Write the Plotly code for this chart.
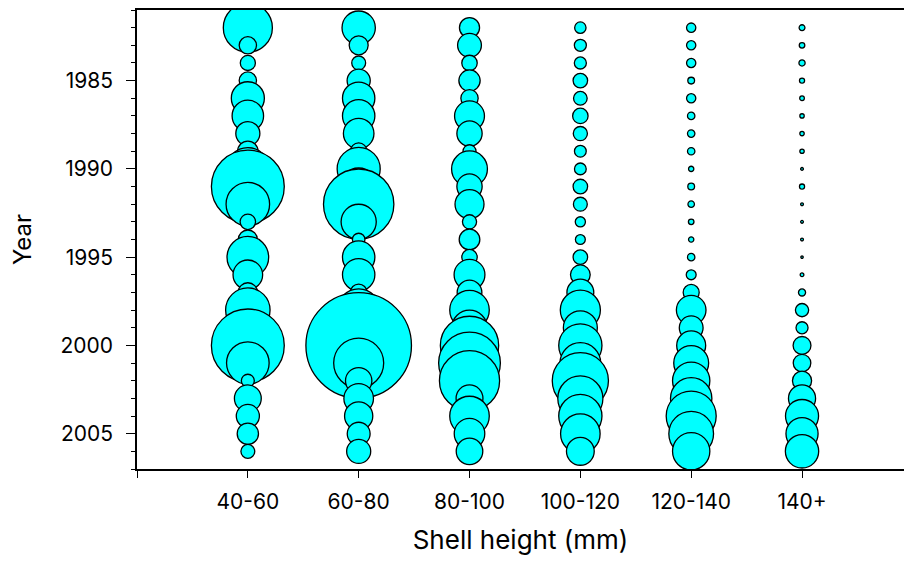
import plotly.graph_objects as go

# ---- data ----
years = list(range(1982, 2007))
size_classes = ["40-60", "60-80", "80-100", "100-120", "120-140", "140+"]

# relative bubble size index for each size class, years 1982..2006
s40_60 = [53, 18.7, 16.3, 18.7, 35.7, 34, 26, 22, 46, 78.7, 47, 16.7, 20.5,
          45, 32, 21, 48, 28, 78.7, 46, 14, 29, 25, 23, 15]
s60_80 = [36, 20.5, 15, 25, 35, 35, 33, 18, 46.5, 40, 76, 38, 13.5,
          35, 35, 18, 46, 40, 114, 54, 28.5, 32, 30.5, 24.7, 26]
s80_100 = [21.7, 25.7, 16.7, 23, 18.7, 32.3, 27.3, 14, 38.7, 27.3, 31.3, 15.3, 22.3,
           16.7, 33.3, 26.7, 42.7, 38, 63, 66.7, 65, 29, 42.7, 33, 28.7]
s100_120 = [12.3, 13, 13, 15.7, 14.7, 16.7, 15.3, 12.7, 12.7, 15.7, 15, 11, 10.7,
            15.7, 21.3, 29, 43.3, 36.7, 46.7, 44, 60.7, 48.7, 46.7, 42.7, 30]
s120_140 = [10, 10, 10, 7.3, 10, 8, 8, 8, 5.7, 7.3, 7, 6, 5.7,
            8, 10.7, 17.3, 32, 25.7, 31.3, 37.7, 40.3, 44.7, 54, 48.3, 40.3]
s140p = [6.3, 6, 6.7, 5.5, 5, 4.7, 4.7, 4.7, 3, 5.5, 3, 3, 3,
         2.5, 4, 7.7, 14.3, 13, 19.3, 19, 20.7, 29.3, 35.7, 34.7, 36]

series = [s40_60, s60_80, s80_100, s100_120, s120_140, s140p]

x_tick_vals = [-1, 0, 1, 2, 3, 4, 5]
x_tick_text = [""] + size_classes
y_tick_vals = [1985, 1990, 1995, 2000, 2005]

FONT = "Inter, Liberation Sans, Arial, sans-serif"

fig = go.Figure()
for idx, (name, vals) in enumerate(zip(size_classes, series)):
    fig.add_trace(go.Scatter(
        x=[idx] * len(years),
        y=years,
        mode="markers",
        name=name,
        showlegend=False,
        marker=dict(
            size=vals,
            sizemode="diameter",
            sizeref=1.08,
            color="#00FFFF",
            opacity=1,
            line=dict(color="black", width=1.3),
        ),
        hovertemplate=name + "<br>%{y}<extra></extra>",
    ))

fig.update_layout(
    width=904,
    height=563,
    margin=dict(l=137, r=0, t=10, b=94),
    paper_bgcolor="white",
    plot_bgcolor="white",
    font=dict(family=FONT, color="black", size=21),
    xaxis=dict(
        range=[-1, 5.92],
        tickmode="array",
        tickvals=x_tick_vals,
        ticktext=x_tick_text,
        ticks="outside",
        ticklen=7,
        tickwidth=1.2,
        tickcolor="black",
        showline=True,
        linecolor="black",
        linewidth=1.5,
        mirror=True,
        showgrid=False,
        zeroline=False,
        ticklabelstandoff=6,
        tickfont=dict(family=FONT, size=21),
        title=dict(text="Shell height (mm)", font=dict(family=FONT, size=26), standoff=18),
    ),
    yaxis=dict(
        range=[2007, 1981],
        tickmode="array",
        tickvals=y_tick_vals,
        ticks="outside",
        ticklen=9,
        tickwidth=1.2,
        tickcolor="black",
        minor=dict(dtick=1, tick0=1981, ticks="outside", ticklen=4.5, tickwidth=1.2, tickcolor="black", showgrid=False),
        showline=True,
        linecolor="black",
        linewidth=1.5,
        mirror=False,
        showgrid=False,
        zeroline=False,
        ticklabelstandoff=9,
        tickfont=dict(family=FONT, size=21),
        title=dict(text="Year", font=dict(family=FONT, size=24), standoff=22),
    ),
)

fig.write_html("out.html")
